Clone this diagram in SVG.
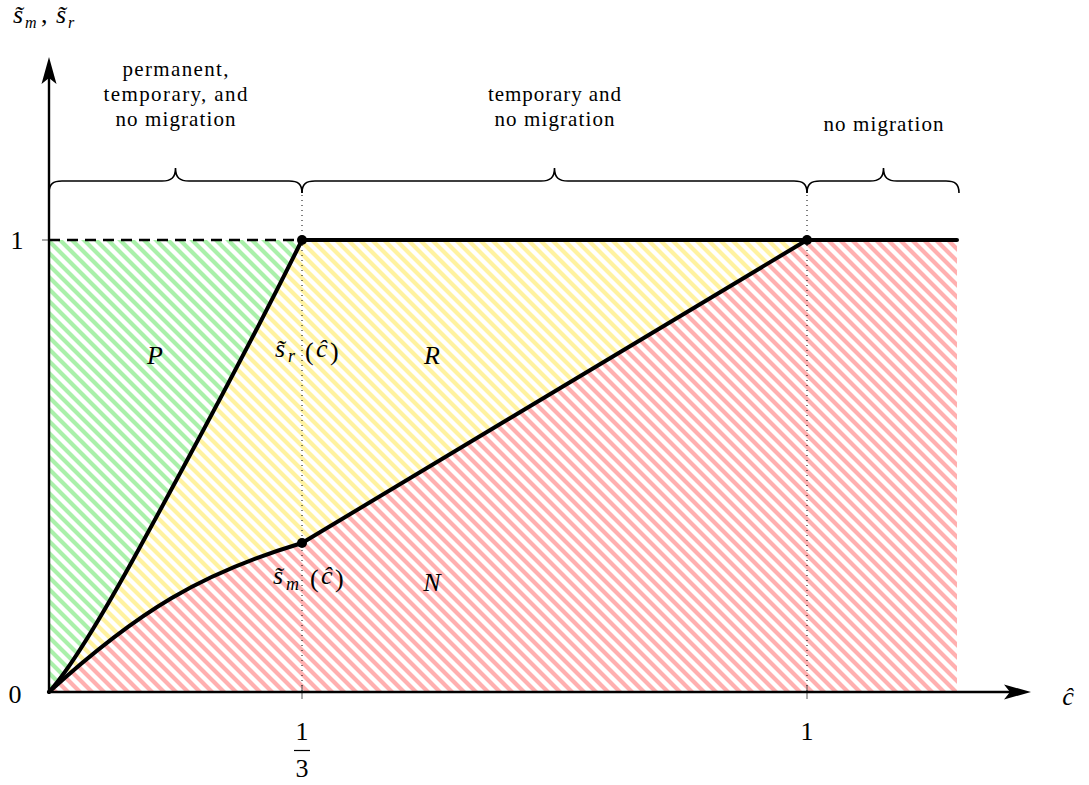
<svg xmlns="http://www.w3.org/2000/svg" width="1089" height="785" viewBox="0 0 1089 785">
<style>
text{fill:#000;font-family:'Liberation Serif','DejaVu Serif',serif}
.lab{font-size:21px;text-anchor:middle}
.mi{font-size:26px;font-style:italic}
.num{font-size:26px;text-anchor:middle}
.thick{fill:none;stroke:#000;stroke-width:4;stroke-linejoin:round;stroke-linecap:round}
.brace{fill:none;stroke:#000;stroke-width:1.6}
.dot{fill:none;stroke:#000;stroke-width:1;stroke-dasharray:1 4}
.tick{stroke:#555;stroke-width:1}
</style>
<defs>
<pattern id="hg" width="12" height="12" patternUnits="userSpaceOnUse"><path d="M-2,-2 L14,14 M10,-2 L14,2 M-2,10 L2,14" stroke="#aaf0aa" stroke-width="4.2"/></pattern>
<pattern id="hy" width="12" height="12" patternUnits="userSpaceOnUse"><path d="M-2,-2 L14,14 M10,-2 L14,2 M-2,10 L2,14" stroke="#fff2a0" stroke-width="4.2"/></pattern>
<pattern id="hr" width="12" height="12" patternUnits="userSpaceOnUse"><path d="M-2,-2 L14,14 M10,-2 L14,2 M-2,10 L2,14" stroke="#ffb0b0" stroke-width="4.2"/></pattern>
</defs>
<g id="regions">
<path id="regionP" d="M49,692 C70,669 100,620 140,547 S250,345 302,240 L49,240 Z" fill="url(#hg)"/>
<path id="regionR" d="M49,692 C70,669 100,620 140,547 S250,345 302,240 L807,240 L302,543 C202,573 139,610 49,692 Z" fill="url(#hy)"/>
<path id="regionN" d="M49,692 C139,610 202,573 302,543 L807,240 L957,240 L957,692 Z" fill="url(#hr)"/>
</g>
<g id="guides">
<line class="dot" x1="302" y1="190" x2="302" y2="692"/>
<line class="dot" x1="807" y1="190" x2="807" y2="692"/>
<line class="tick" x1="42" y1="240" x2="56" y2="240"/>
<line class="tick" x1="302" y1="685" x2="302" y2="699"/>
<line class="tick" x1="807" y1="685" x2="807" y2="699"/>
</g>
<g id="axes">
<line x1="49" y1="692" x2="1012" y2="692" stroke="#000" stroke-width="2.4"/>
<path d="M1031,692 L1004,684.5 L1010,692 L1004,699.5 Z" fill="#000"/>
<line x1="49" y1="692" x2="49" y2="76" stroke="#000" stroke-width="2.4"/>
<path d="M49,57 L41.5,84 L49,78 L56.5,84 Z" fill="#000"/>
</g>
<g id="connectors">
<line x1="49" y1="240" x2="302" y2="240" stroke="#000" stroke-width="2.6" stroke-dasharray="11 7"/>
<path class="thick" d="M49,692 C70,669 100,620 140,547 S250,345 302,240"/>
<path class="thick" d="M49,692 C139,610 202,573 302,543 L807,240"/>
<path class="thick" d="M302,240 L957,240" stroke-linecap="butt"/>
</g>
<g id="points">
<circle cx="302" cy="240" r="5"/>
<circle cx="807" cy="240" r="5"/>
<circle cx="302" cy="543" r="5"/>
</g>
<g id="braces">
<path class="brace" d="M49,193 C49,184 53,181 62,181 L162,181 C171,181 175.5,178 175.5,168 C175.5,178 180,181 189,181 L289,181 C298,181 302,184 302,193"/>
<path class="brace" d="M302,193 C302,184 306,181 315,181 L541,181 C550,181 554.5,178 554.5,168 C554.5,178 559,181 568,181 L794,181 C803,181 807,184 807,193"/>
<path class="brace" d="M807,193 C807,184 811,181 820,181 L870,181 C879,181 883.5,178 883.5,168 C883.5,178 888,181 897,181 L946,181 C955,181 959,184 959,193"/>
</g>
<g id="labels-top">
<text class="lab" x="175.5" y="76" textLength="106">permanent,</text>
<text class="lab" x="175.5" y="101" textLength="144">temporary, and</text>
<text class="lab" x="175.5" y="126" textLength="120">no migration</text>
<text class="lab" x="554.5" y="101" textLength="133">temporary and</text>
<text class="lab" x="554.5" y="126" textLength="120">no migration</text>
<text class="lab" x="883.5" y="131" textLength="120">no migration</text>
</g>
<g id="region-labels">
<text class="mi" x="155" y="364" text-anchor="middle">P</text>
<text class="mi" x="432" y="364" text-anchor="middle">R</text>
<text class="mi" x="432" y="591" text-anchor="middle">N</text>
</g>
<g id="curve-labels">
<text class="mi" x="275" y="357">s̃<tspan x="288" y="362" font-size="18">r</tspan><tspan x="305" y="360" font-style="normal">(</tspan><tspan x="316" y="357">ĉ</tspan><tspan x="330" y="360" font-style="normal">)</tspan></text>
<text class="mi" x="273" y="584">s̃<tspan x="286" y="590" font-size="18">m</tspan><tspan x="310" y="587" font-style="normal">(</tspan><tspan x="321" y="584">ĉ</tspan><tspan x="335" y="587" font-style="normal">)</tspan></text>
</g>
<g id="axis-labels">
<text class="mi" x="13" y="23" font-size="23">s̃<tspan x="25" y="28" font-size="16">m</tspan><tspan x="41" y="23" font-style="normal">,</tspan><tspan x="56" y="23">s̃</tspan><tspan x="68" y="28" font-size="16">r</tspan></text>
<text class="mi" x="1068" y="705" text-anchor="middle">ĉ</text>
<text class="num" x="15" y="703">0</text>
<text class="num" x="17" y="249">1</text>
<text class="num" x="807" y="740">1</text>
<text class="num" x="302" y="740">1</text>
<line x1="294" y1="750.5" x2="310" y2="750.5" stroke="#000" stroke-width="1.2"/>
<text class="num" x="302" y="777">3</text>
</g>
</svg>
